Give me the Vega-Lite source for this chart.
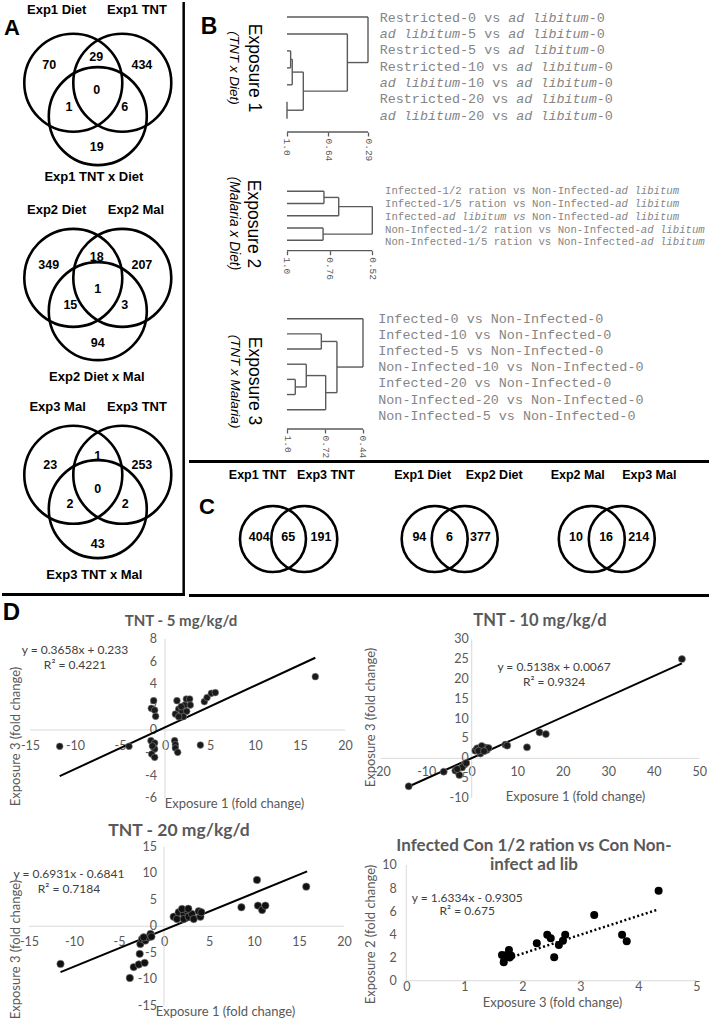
{
"$schema": "https://vega.github.io/schema/vega-lite/v6.json",
"padding": 0,
"background": "white",
"config": {"view": {"stroke": null}, "axis": {"labelOverlap": false}},
"spacing": 0,
"datasets": {
"venn3_circles": [
{"venn":"Exp1","set":"Diet","cx":-0.5,"cy":0},
{"venn":"Exp1","set":"TNT","cx":0.5,"cy":0},
{"venn":"Exp1","set":"TNT x Diet","cx":0,"cy":0.68},
{"venn":"Exp2","set":"Diet","cx":-0.5,"cy":3.98},
{"venn":"Exp2","set":"Mal","cx":0.5,"cy":3.98},
{"venn":"Exp2","set":"Diet x Mal","cx":0,"cy":4.66},
{"venn":"Exp3","set":"Mal","cx":-0.5,"cy":8.0},
{"venn":"Exp3","set":"TNT","cx":0.5,"cy":8.0},
{"venn":"Exp3","set":"TNT x Mal","cx":0,"cy":8.7}
],
"venn3_titles": [
{"label":"Exp1 Diet","x":-0.84,"y":-1.48},
{"label":"Exp1 TNT","x":0.8,"y":-1.48},
{"label":"Exp1 TNT x Diet","x":-0.08,"y":1.92},
{"label":"Exp2 Diet","x":-0.84,"y":2.6},
{"label":"Exp2 Mal","x":0.78,"y":2.6},
{"label":"Exp2 Diet x Mal","x":-0.02,"y":6.0},
{"label":"Exp3 Mal","x":-0.82,"y":6.62},
{"label":"Exp3 TNT","x":0.8,"y":6.62},
{"label":"Exp3 TNT x Mal","x":-0.07,"y":10.04}
],
"venn3_counts": [
{"venn":"Exp1","n":"70","x":-0.99,"y":-0.36},
{"venn":"Exp1","n":"29","x":-0.03,"y":-0.53},
{"venn":"Exp1","n":"434","x":0.9,"y":-0.36},
{"venn":"Exp1","n":"0","x":-0.02,"y":0.15},
{"venn":"Exp1","n":"1","x":-0.59,"y":0.49},
{"venn":"Exp1","n":"6","x":0.55,"y":0.49},
{"venn":"Exp1","n":"19","x":-0.02,"y":1.31},
{"venn":"Exp2","n":"349","x":-1.0,"y":3.72},
{"venn":"Exp2","n":"18","x":-0.02,"y":3.56},
{"venn":"Exp2","n":"207","x":0.9,"y":3.72},
{"venn":"Exp2","n":"1","x":0,"y":4.2},
{"venn":"Exp2","n":"15","x":-0.56,"y":4.54},
{"venn":"Exp2","n":"3","x":0.55,"y":4.54},
{"venn":"Exp2","n":"94","x":0,"y":5.32},
{"venn":"Exp3","n":"23","x":-0.97,"y":7.79},
{"venn":"Exp3","n":"1","x":0,"y":7.62},
{"venn":"Exp3","n":"253","x":0.9,"y":7.79},
{"venn":"Exp3","n":"0","x":0,"y":8.28},
{"venn":"Exp3","n":"2","x":-0.57,"y":8.59},
{"venn":"Exp3","n":"2","x":0.56,"y":8.59},
{"venn":"Exp3","n":"43","x":0,"y":9.41}
],
"venn2_circles": [
{"pair":"TNT","set":"Exp1 TNT","cx":2.545,"cy":0},
{"pair":"TNT","set":"Exp3 TNT","cx":3.494,"cy":0},
{"pair":"Diet","set":"Exp1 Diet","cx":7.445,"cy":0},
{"pair":"Diet","set":"Exp2 Diet","cx":8.355,"cy":0},
{"pair":"Mal","set":"Exp2 Mal","cx":12.206,"cy":0},
{"pair":"Mal","set":"Exp3 Mal","cx":13.115,"cy":0}
],
"venn2_titles": [
{"label":"Exp1 TNT","x":2.08,"y":-1.95},
{"label":"Exp3 TNT","x":4.15,"y":-1.95},
{"label":"Exp1 Diet","x":7.08,"y":-1.95},
{"label":"Exp2 Diet","x":9.25,"y":-1.95},
{"label":"Exp2 Mal","x":11.78,"y":-1.95},
{"label":"Exp3 Mal","x":13.95,"y":-1.95}
],
"venn2_counts": [
{"n":"404","x":2.13,"y":-0.05},
{"n":"65","x":3.01,"y":-0.05},
{"n":"191","x":4.0,"y":-0.05},
{"n":"94","x":6.98,"y":-0.05},
{"n":"6","x":7.89,"y":-0.05},
{"n":"377","x":8.83,"y":-0.05},
{"n":"10","x":11.73,"y":-0.05},
{"n":"16","x":12.64,"y":-0.05},
{"n":"214","x":13.63,"y":-0.05}
],
"b1_tree": [
{"x":1.0,"x2":0.29,"y":1,"y2":1},
{"x":1.0,"x2":0.471,"y":2,"y2":2},
{"x":1.0,"x2":0.968,"y":3,"y2":3},
{"x":1.0,"x2":0.968,"y":4,"y2":4},
{"x":0.968,"x2":0.968,"y":3,"y2":4},
{"x":0.968,"x2":0.954,"y":3.5,"y2":3.5},
{"x":1.0,"x2":0.954,"y":5,"y2":5},
{"x":0.954,"x2":0.954,"y":3.5,"y2":5},
{"x":0.954,"x2":0.857,"y":4.25,"y2":4.25},
{"x":1.0,"x2":1.0,"y":6,"y2":7},
{"x":1.0,"x2":0.857,"y":6.5,"y2":6.5},
{"x":0.857,"x2":0.857,"y":4.25,"y2":6.5},
{"x":0.857,"x2":0.471,"y":5.375,"y2":5.375},
{"x":0.471,"x2":0.471,"y":2,"y2":5.375},
{"x":0.471,"x2":0.29,"y":3.6875,"y2":3.6875},
{"x":0.29,"x2":0.29,"y":1,"y2":3.6875}
],
"b2_tree": [
{"x":1.0,"x2":0.792,"y":1,"y2":1},
{"x":1.0,"x2":0.792,"y":2,"y2":2},
{"x":0.792,"x2":0.792,"y":1,"y2":2},
{"x":0.792,"x2":0.709,"y":1.5,"y2":1.5},
{"x":1.0,"x2":0.709,"y":3,"y2":3},
{"x":0.709,"x2":0.709,"y":1.5,"y2":3},
{"x":0.709,"x2":0.52,"y":2.25,"y2":2.25},
{"x":1.0,"x2":0.797,"y":4,"y2":4},
{"x":1.0,"x2":0.797,"y":5,"y2":5},
{"x":0.797,"x2":0.797,"y":4,"y2":5},
{"x":0.797,"x2":0.52,"y":4.5,"y2":4.5},
{"x":0.52,"x2":0.52,"y":2.25,"y2":4.5}
],
"b3_tree": [
{"x":1.0,"x2":0.44,"y":1,"y2":1},
{"x":1.0,"x2":0.747,"y":2,"y2":2},
{"x":1.0,"x2":0.747,"y":3,"y2":3},
{"x":0.747,"x2":0.747,"y":2,"y2":3},
{"x":0.747,"x2":0.632,"y":2.5,"y2":2.5},
{"x":1.0,"x2":0.858,"y":4,"y2":4},
{"x":1.0,"x2":0.939,"y":5,"y2":5},
{"x":1.0,"x2":0.939,"y":6,"y2":6},
{"x":0.939,"x2":0.939,"y":5,"y2":6},
{"x":0.939,"x2":0.858,"y":5.5,"y2":5.5},
{"x":0.858,"x2":0.858,"y":4,"y2":5.5},
{"x":0.858,"x2":0.715,"y":4.75,"y2":4.75},
{"x":1.0,"x2":0.715,"y":7,"y2":7},
{"x":0.715,"x2":0.715,"y":4.75,"y2":7},
{"x":0.715,"x2":0.632,"y":5.875,"y2":5.875},
{"x":0.632,"x2":0.632,"y":2.5,"y2":5.875},
{"x":0.632,"x2":0.44,"y":4.1875,"y2":4.1875},
{"x":0.44,"x2":0.44,"y":1,"y2":4.1875}
],
"b1_labels": [
{"r":1,"plain":"Restricted-0\u00a0vs\u00a0\u00a0\u00a0\u00a0\u00a0\u00a0\u00a0\u00a0\u00a0\u00a0\u00a0-0","ital":"\u200b\u00a0\u00a0\u00a0\u00a0\u00a0\u00a0\u00a0\u00a0\u00a0\u00a0\u00a0\u00a0\u00a0\u00a0\u00a0\u00a0ad\u00a0libitum"},
{"r":2,"plain":"\u200b\u00a0\u00a0\u00a0\u00a0\u00a0\u00a0\u00a0\u00a0\u00a0\u00a0-5\u00a0vs\u00a0\u00a0\u00a0\u00a0\u00a0\u00a0\u00a0\u00a0\u00a0\u00a0\u00a0-0","ital":"ad\u00a0libitum\u00a0\u00a0\u00a0\u00a0\u00a0\u00a0ad\u00a0libitum"},
{"r":3,"plain":"Restricted-5\u00a0vs\u00a0\u00a0\u00a0\u00a0\u00a0\u00a0\u00a0\u00a0\u00a0\u00a0\u00a0-0","ital":"\u200b\u00a0\u00a0\u00a0\u00a0\u00a0\u00a0\u00a0\u00a0\u00a0\u00a0\u00a0\u00a0\u00a0\u00a0\u00a0\u00a0ad\u00a0libitum"},
{"r":4,"plain":"Restricted-10\u00a0vs\u00a0\u00a0\u00a0\u00a0\u00a0\u00a0\u00a0\u00a0\u00a0\u00a0\u00a0-0","ital":"\u200b\u00a0\u00a0\u00a0\u00a0\u00a0\u00a0\u00a0\u00a0\u00a0\u00a0\u00a0\u00a0\u00a0\u00a0\u00a0\u00a0\u00a0ad\u00a0libitum"},
{"r":5,"plain":"\u200b\u00a0\u00a0\u00a0\u00a0\u00a0\u00a0\u00a0\u00a0\u00a0\u00a0-10\u00a0vs\u00a0\u00a0\u00a0\u00a0\u00a0\u00a0\u00a0\u00a0\u00a0\u00a0\u00a0-0","ital":"ad\u00a0libitum\u00a0\u00a0\u00a0\u00a0\u00a0\u00a0\u00a0ad\u00a0libitum"},
{"r":6,"plain":"Restricted-20\u00a0vs\u00a0\u00a0\u00a0\u00a0\u00a0\u00a0\u00a0\u00a0\u00a0\u00a0\u00a0-0","ital":"\u200b\u00a0\u00a0\u00a0\u00a0\u00a0\u00a0\u00a0\u00a0\u00a0\u00a0\u00a0\u00a0\u00a0\u00a0\u00a0\u00a0\u00a0ad\u00a0libitum"},
{"r":7,"plain":"\u200b\u00a0\u00a0\u00a0\u00a0\u00a0\u00a0\u00a0\u00a0\u00a0\u00a0-20\u00a0vs\u00a0\u00a0\u00a0\u00a0\u00a0\u00a0\u00a0\u00a0\u00a0\u00a0\u00a0-0","ital":"ad\u00a0libitum\u00a0\u00a0\u00a0\u00a0\u00a0\u00a0\u00a0ad\u00a0libitum"}
],
"b2_labels": [
{"r":1,"plain":"Infected-1/2\u00a0ration\u00a0vs\u00a0Non-Infected-","ital":"\u200b\u00a0\u00a0\u00a0\u00a0\u00a0\u00a0\u00a0\u00a0\u00a0\u00a0\u00a0\u00a0\u00a0\u00a0\u00a0\u00a0\u00a0\u00a0\u00a0\u00a0\u00a0\u00a0\u00a0\u00a0\u00a0\u00a0\u00a0\u00a0\u00a0\u00a0\u00a0\u00a0\u00a0\u00a0\u00a0\u00a0ad\u00a0libitum"},
{"r":2,"plain":"Infected-1/5\u00a0ration\u00a0vs\u00a0Non-Infected-","ital":"\u200b\u00a0\u00a0\u00a0\u00a0\u00a0\u00a0\u00a0\u00a0\u00a0\u00a0\u00a0\u00a0\u00a0\u00a0\u00a0\u00a0\u00a0\u00a0\u00a0\u00a0\u00a0\u00a0\u00a0\u00a0\u00a0\u00a0\u00a0\u00a0\u00a0\u00a0\u00a0\u00a0\u00a0\u00a0\u00a0\u00a0ad\u00a0libitum"},
{"r":3,"plain":"Infected-\u00a0\u00a0\u00a0\u00a0\u00a0\u00a0\u00a0\u00a0\u00a0\u00a0\u00a0\u00a0\u00a0\u00a0Non-Infected-","ital":"\u200b\u00a0\u00a0\u00a0\u00a0\u00a0\u00a0\u00a0\u00a0\u00a0ad\u00a0libitum\u00a0vs\u00a0\u00a0\u00a0\u00a0\u00a0\u00a0\u00a0\u00a0\u00a0\u00a0\u00a0\u00a0\u00a0\u00a0ad\u00a0libitum"},
{"r":4,"plain":"Non-Infected-1/2\u00a0ration\u00a0vs\u00a0Non-Infected-","ital":"\u200b\u00a0\u00a0\u00a0\u00a0\u00a0\u00a0\u00a0\u00a0\u00a0\u00a0\u00a0\u00a0\u00a0\u00a0\u00a0\u00a0\u00a0\u00a0\u00a0\u00a0\u00a0\u00a0\u00a0\u00a0\u00a0\u00a0\u00a0\u00a0\u00a0\u00a0\u00a0\u00a0\u00a0\u00a0\u00a0\u00a0\u00a0\u00a0\u00a0\u00a0ad\u00a0libitum"},
{"r":5,"plain":"Non-Infected-1/5\u00a0ration\u00a0vs\u00a0Non-Infected-","ital":"\u200b\u00a0\u00a0\u00a0\u00a0\u00a0\u00a0\u00a0\u00a0\u00a0\u00a0\u00a0\u00a0\u00a0\u00a0\u00a0\u00a0\u00a0\u00a0\u00a0\u00a0\u00a0\u00a0\u00a0\u00a0\u00a0\u00a0\u00a0\u00a0\u00a0\u00a0\u00a0\u00a0\u00a0\u00a0\u00a0\u00a0\u00a0\u00a0\u00a0\u00a0ad\u00a0libitum"}
],
"b3_labels": [
{"r":1,"plain":"Infected-0 vs Non-Infected-0"},
{"r":2,"plain":"Infected-10 vs Non-Infected-0"},
{"r":3,"plain":"Infected-5 vs Non-Infected-0"},
{"r":4,"plain":"Non-Infected-10 vs Non-Infected-0"},
{"r":5,"plain":"Infected-20 vs Non-Infected-0"},
{"r":6,"plain":"Non-Infected-20 vs Non-Infected-0"},
{"r":7,"plain":"Non-Infected-5 vs Non-Infected-0"}
],
"d1_yticks": [{"v":-6},{"v":-4},{"v":-2},{"v":0},{"v":2},{"v":4},{"v":6},{"v":8}],
"d2_yticks": [{"v":-10},{"v":-5},{"v":0},{"v":5},{"v":10},{"v":15},{"v":20},{"v":25},{"v":30}],
"d3_yticks": [{"v":-15},{"v":-10},{"v":-5},{"v":0},{"v":5},{"v":10},{"v":15}],
"d1": [
{"x":-11.7,"y":-1.43},{"x":-4.0,"y":-1.43},{"x":-1.26,"y":2.57},{"x":-1.52,"y":1.9},{"x":-1.15,"y":1.74},{"x":-1.04,"y":1.2},{"x":-1.56,"y":-0.94},{"x":-1.15,"y":-1.14},{"x":-1.26,"y":-1.52},{"x":-1.15,"y":-1.67},{"x":-1.48,"y":-2.11},{"x":-1.15,"y":-2.4},{"x":-1.4,"y":-1.4},{"x":1.33,"y":2.57},{"x":1.15,"y":1.4},{"x":1.52,"y":1.84},{"x":1.89,"y":1.64},{"x":2.19,"y":2.19},{"x":2.37,"y":2.72},{"x":2.74,"y":2.72},{"x":2.41,"y":1.64},{"x":2.04,"y":1.17},{"x":2.81,"y":2.19},{"x":1.52,"y":1.17},{"x":1.8,"y":2.05},{"x":1.07,"y":-0.94},{"x":1.15,"y":-1.29},{"x":1.15,"y":-1.58},{"x":1.41,"y":-1.96},{"x":3.93,"y":-1.32},{"x":4.37,"y":2.49},{"x":4.67,"y":2.84},{"x":5.15,"y":3.22},{"x":5.59,"y":3.28},{"x":16.7,"y":4.68}
],
"d1_trend": [{"x":-11.7,"y":-4.05},{"x":16.7,"y":6.34}],
"d2": [
{"x":-13.85,"y":-7.05},{"x":-6.15,"y":-3.37},{"x":-3.6,"y":-3.1},{"x":-2.72,"y":-4.2},{"x":-1.62,"y":-1.6},{"x":-2.1,"y":-2.3},{"x":-3.2,"y":-2.7},{"x":-1.2,"y":-1.2},{"x":0.8,"y":1.93},{"x":1.2,"y":2.5},{"x":1.9,"y":1.2},{"x":2.5,"y":2.3},{"x":3.0,"y":2.7},{"x":2.2,"y":3.1},{"x":3.3,"y":2.1},{"x":1.5,"y":1.9},{"x":3.7,"y":2.6},{"x":2.7,"y":1.8},{"x":7.4,"y":3.44},{"x":7.8,"y":3.2},{"x":12.15,"y":2.77},{"x":14.9,"y":6.54},{"x":16.3,"y":6.1},{"x":46.2,"y":25.0}
],
"d2_trend": [{"x":-13.85,"y":-7.1},{"x":46.2,"y":23.9}],
"d3": [
{"x":-11.5,"y":-7.1},{"x":-3.8,"y":-9.76},{"x":-3.37,"y":-7.7},{"x":-2.8,"y":-7.2},{"x":-2.15,"y":-6.9},{"x":-2.7,"y":-5.2},{"x":-2.63,"y":-3.34},{"x":-2.44,"y":-2.4},{"x":-2.07,"y":-2.7},{"x":-1.7,"y":-2.08},{"x":-1.5,"y":-1.45},{"x":-1.4,"y":-1.95},{"x":-2.26,"y":-2.08},{"x":1.07,"y":1.8},{"x":1.44,"y":1.37},{"x":1.63,"y":2.64},{"x":2.19,"y":2.33},{"x":2.56,"y":2.96},{"x":2.19,"y":1.37},{"x":2.74,"y":1.8},{"x":3.11,"y":2.33},{"x":3.3,"y":1.37},{"x":3.85,"y":2.83},{"x":4.04,"y":1.8},{"x":4.15,"y":2.64},{"x":2.0,"y":3.27},{"x":2.7,"y":3.3},{"x":8.6,"y":3.58},{"x":10.33,"y":8.74},{"x":10.44,"y":3.9},{"x":10.9,"y":3.07},{"x":11.26,"y":3.9},{"x":15.8,"y":7.48}
],
"d3_trend": [{"x":-11.5,"y":-8.65},{"x":15.9,"y":10.35}],
"d4": [
{"x":1.65,"y":2.22},{"x":1.68,"y":1.6},{"x":1.72,"y":2.2},{"x":1.77,"y":2.65},{"x":1.78,"y":2.0},{"x":1.81,"y":2.15},{"x":2.25,"y":3.23},{"x":2.43,"y":3.98},{"x":2.49,"y":3.66},{"x":2.55,"y":2.02},{"x":2.63,"y":3.09},{"x":2.7,"y":3.46},{"x":2.74,"y":3.98},{"x":3.24,"y":5.68},{"x":3.72,"y":3.98},{"x":3.8,"y":3.4},{"x":4.35,"y":7.78}
],
"d4_trend": [{"x":1.62,"y":1.72},{"x":4.35,"y":6.17}]
},
"vconcat": [
{
"hconcat": [
{
"width": 183, "height": 594,
"layer": [
{"data": {"name": "venn3_circles"},
 "mark": {"type": "point", "shape": "circle", "filled": false, "size": 9604, "stroke": "black", "strokeWidth": 2.6, "opacity": 1},
 "encoding": {"x": {"field": "cx", "type": "quantitative", "scale": {"domain": [-1.955, 1.78], "nice": false, "zero": false}, "axis": null},
              "y": {"field": "cy", "type": "quantitative", "scale": {"domain": [-1.649, 10.473], "reverse": true, "nice": false, "zero": false}, "axis": null}}},
{"data": {"name": "venn3_titles"},
 "mark": {"type": "text", "font": "Liberation Sans", "fontWeight": "bold", "fontSize": 13, "align": "center", "baseline": "middle", "color": "black"},
 "encoding": {"x": {"field": "x", "type": "quantitative", "scale": {"domain": [-1.955, 1.78], "nice": false, "zero": false}, "axis": null},
              "y": {"field": "y", "type": "quantitative", "scale": {"domain": [-1.649, 10.473], "reverse": true, "nice": false, "zero": false}, "axis": null},
              "text": {"field": "label", "type": "nominal"}}},
{"data": {"name": "venn3_counts"},
 "mark": {"type": "text", "font": "Liberation Sans", "fontWeight": "bold", "fontSize": 12.5, "align": "center", "baseline": "middle", "color": "black"},
 "encoding": {"x": {"field": "x", "type": "quantitative", "scale": {"domain": [-1.955, 1.78], "nice": false, "zero": false}, "axis": null},
              "y": {"field": "y", "type": "quantitative", "scale": {"domain": [-1.649, 10.473], "reverse": true, "nice": false, "zero": false}, "axis": null},
              "text": {"field": "n", "type": "nominal"}}},
{"data": {"values": [{}]},
 "mark": {"type": "text", "text": "A", "font": "Liberation Sans", "fontWeight": "bold", "fontSize": 22, "align": "center", "baseline": "middle", "color": "black"},
 "encoding": {"x": {"datum": -1.75, "type": "quantitative", "scale": {"domain": [-1.955, 1.78], "nice": false, "zero": false}, "axis": null},
              "y": {"datum": -1.118, "type": "quantitative", "scale": {"domain": [-1.649, 10.473], "reverse": true, "nice": false, "zero": false}, "axis": null}}},
{"data": {"values": [{}]},
 "mark": {"type": "rule", "color": "black", "strokeWidth": 2.5},
 "encoding": {"x": {"datum": 1.753, "type": "quantitative", "scale": {"domain": [-1.955, 1.78], "nice": false, "zero": false}, "axis": null},
              "y": {"datum": -1.649, "type": "quantitative", "scale": {"domain": [-1.649, 10.473], "reverse": true, "nice": false, "zero": false}, "axis": null},
              "y2": {"datum": 10.473}}},
{"data": {"values": [{}]},
 "mark": {"type": "rule", "color": "black", "strokeWidth": 3},
 "encoding": {"x": {"datum": -1.955, "type": "quantitative", "scale": {"domain": [-1.955, 1.78], "nice": false, "zero": false}, "axis": null},
              "x2": {"datum": 1.78},
              "y": {"datum": 10.443, "type": "quantitative", "scale": {"domain": [-1.649, 10.473], "reverse": true, "nice": false, "zero": false}, "axis": null}}}
]
},
{
"vconcat": [
{
"hconcat": [
{"width": 89.3, "height": 158, "data": {"values": [{}]},
 "layer": [
 {"mark": {"type": "text", "text": "B", "font": "Liberation Sans", "fontWeight": "bold", "fontSize": 23, "align": "center", "baseline": "middle", "color": "black"},
  "encoding": {"x": {"datum": 0.224, "type": "quantitative", "scale": {"domain": [0, 1]}, "axis": null},
               "y": {"datum": 1.59, "type": "quantitative", "scale": {"domain": [0.115, 9.437], "reverse": true, "nice": false, "zero": false}, "axis": null}}},
 {"mark": {"type": "text", "text": "Exposure 1", "angle": 90, "font": "Liberation Sans", "fontSize": 17.5, "align": "center", "baseline": "middle", "color": "black"},
  "encoding": {"x": {"datum": 0.728, "type": "quantitative", "scale": {"domain": [0, 1]}, "axis": null},
               "y": {"datum": 4.01, "type": "quantitative", "scale": {"domain": [0.115, 9.437], "reverse": true, "nice": false, "zero": false}, "axis": null}}},
 {"mark": {"type": "text", "text": "(TNT x Diet)", "angle": 90, "font": "Liberation Sans", "fontStyle": "italic", "fontSize": 13.5, "align": "center", "baseline": "middle", "color": "black"},
  "encoding": {"x": {"datum": 0.5095, "type": "quantitative", "scale": {"domain": [0, 1]}, "axis": null},
               "y": {"datum": 4.01, "type": "quantitative", "scale": {"domain": [0.115, 9.437], "reverse": true, "nice": false, "zero": false}, "axis": null}}}
 ]},
{"width": 97, "height": 158,
 "layer": [
 {"data": {"name": "b1_tree"},
  "mark": {"type": "rule", "color": "#5a5a5a", "strokeWidth": 1.4},
  "encoding": {
   "x": {"field": "x", "type": "quantitative", "scale": {"domain": [0.2199, 1.0701], "reverse": true, "nice": false, "zero": false},
         "axis": {"values": [1.0, 0.64, 0.29], "title": null, "grid": false, "domain": false, "offset": -28, "labelAngle": 90, "labelAlign": "left", "labelBaseline": "middle", "labelFont": "Liberation Mono", "labelFontSize": 9.5, "labelColor": "#555555", "tickColor": "#5a5a5a", "tickSize": 4, "tickWidth": 1.3, "labelPadding": 2, "labelFlush": false, "labelOverlap": false, "labelExpr": "datum.value == 1 ? '1.0' : format(datum.value, '.2f')"}},
   "x2": {"field": "x2"},
   "y": {"field": "y", "type": "quantitative", "scale": {"domain": [0.115, 9.437], "reverse": true, "nice": false, "zero": false}, "axis": null},
   "y2": {"field": "y2"}}},
 {"data": {"values": [{}]},
  "mark": {"type": "rule", "color": "#5a5a5a", "strokeWidth": 1.3},
  "encoding": {
   "x": {"datum": 1.0, "type": "quantitative", "scale": {"domain": [0.2199, 1.0701], "reverse": true, "nice": false, "zero": false}},
   "x2": {"datum": 0.29},
   "y": {"datum": 7.785, "type": "quantitative", "scale": {"domain": [0.115, 9.437], "reverse": true, "nice": false, "zero": false}, "axis": null}}}
 ]},
{"width": 339.7, "height": 158, "data": {"name": "b1_labels"},
 "encoding": {"x": {"datum": 0, "type": "quantitative", "scale": {"domain": [0, 1]}, "axis": null},
              "y": {"field": "r", "type": "quantitative", "scale": {"domain": [0.039, 9.714], "reverse": true, "nice": false, "zero": false}, "axis": null}},
 "layer": [
 {"mark": {"type": "text", "font": "Liberation Mono", "fontSize": 13.4, "color": "#858585", "align": "left", "baseline": "middle", "dx": 3.7}, "encoding": {"text": {"field": "plain", "type": "nominal"}}},
 {"mark": {"type": "text", "font": "Liberation Mono", "fontStyle": "italic", "fontSize": 13.4, "color": "#858585", "align": "left", "baseline": "middle", "dx": 3.7}, "encoding": {"text": {"field": "ital", "type": "nominal"}}}
 ]}
],
"spacing": 0
},
{
"hconcat": [
{"width": 89.7, "height": 142, "data": {"values": [{}]},
 "layer": [
 {"mark": {"type": "text", "text": "Exposure 2", "angle": 90, "font": "Liberation Sans", "fontSize": 17.5, "align": "center", "baseline": "middle", "color": "black"},
  "encoding": {"x": {"datum": 0.719, "type": "quantitative", "scale": {"domain": [0, 1]}, "axis": null},
               "y": {"datum": 3.67, "type": "quantitative", "scale": {"domain": [-1.473, 10.118], "reverse": true, "nice": false, "zero": false}, "axis": null}}},
 {"mark": {"type": "text", "text": "(Malaria x Diet)", "angle": 90, "font": "Liberation Sans", "fontStyle": "italic", "fontSize": 13.8, "align": "center", "baseline": "middle", "color": "black"},
  "encoding": {"x": {"datum": 0.505, "type": "quantitative", "scale": {"domain": [0, 1]}, "axis": null},
               "y": {"datum": 3.63, "type": "quantitative", "scale": {"domain": [-1.473, 10.118], "reverse": true, "nice": false, "zero": false}, "axis": null}}}
 ]},
{"width": 101.3, "height": 142,
 "layer": [
 {"data": {"name": "b2_tree"},
  "mark": {"type": "rule", "color": "#5a5a5a", "strokeWidth": 1.4},
  "encoding": {
   "x": {"field": "x", "type": "quantitative", "scale": {"domain": [0.475, 1.045], "reverse": true, "nice": false, "zero": false},
         "axis": {"values": [1.0, 0.76, 0.52], "title": null, "grid": false, "domain": false, "offset": -52.3, "labelAngle": 90, "labelAlign": "left", "labelBaseline": "middle", "labelFont": "Liberation Mono", "labelFontSize": 9.5, "labelColor": "#555555", "tickColor": "#5a5a5a", "tickSize": 4, "tickWidth": 1.3, "labelPadding": 2, "labelFlush": false, "labelOverlap": false, "labelExpr": "datum.value == 1 ? '1.0' : format(datum.value, '.2f')"}},
   "x2": {"field": "x2"},
   "y": {"field": "y", "type": "quantitative", "scale": {"domain": [-1.473, 10.118], "reverse": true, "nice": false, "zero": false}, "axis": null},
   "y2": {"field": "y2"}}},
 {"data": {"values": [{}]},
  "mark": {"type": "rule", "color": "#5a5a5a", "strokeWidth": 1.3},
  "encoding": {
   "x": {"datum": 1.0, "type": "quantitative", "scale": {"domain": [0.475, 1.045], "reverse": true, "nice": false, "zero": false}},
   "x2": {"datum": 0.52},
   "y": {"datum": 5.849, "type": "quantitative", "scale": {"domain": [-1.473, 10.118], "reverse": true, "nice": false, "zero": false}, "axis": null}}}
 ]},
{"width": 335, "height": 142, "data": {"name": "b2_labels"},
 "encoding": {"x": {"datum": 0, "type": "quantitative", "scale": {"domain": [0, 1]}, "axis": null},
              "y": {"field": "r", "type": "quantitative", "scale": {"domain": [-1.376, 9.761], "reverse": true, "nice": false, "zero": false}, "axis": null}},
 "layer": [
 {"mark": {"type": "text", "font": "Liberation Mono", "fontSize": 10.67, "color": "#858585", "align": "left", "baseline": "middle", "dx": 4}, "encoding": {"text": {"field": "plain", "type": "nominal"}}},
 {"mark": {"type": "text", "font": "Liberation Mono", "fontStyle": "italic", "fontSize": 10.67, "color": "#858585", "align": "left", "baseline": "middle", "dx": 4}, "encoding": {"text": {"field": "ital", "type": "nominal"}}}
 ]}
],
"spacing": 0
},
{
"hconcat": [
{"width": 89.7, "height": 157, "data": {"values": [{}]},
 "layer": [
 {"mark": {"type": "text", "text": "Exposure 3", "angle": 90, "font": "Liberation Sans", "fontSize": 17.5, "align": "center", "baseline": "middle", "color": "black"},
  "encoding": {"x": {"datum": 0.728, "type": "quantitative", "scale": {"domain": [0, 1]}, "axis": null},
               "y": {"datum": 5.11, "type": "quantitative", "scale": {"domain": [-0.035, 10.315], "reverse": true, "nice": false, "zero": false}, "axis": null}}},
 {"mark": {"type": "text", "text": "(TNT x Malaria)", "angle": 90, "font": "Liberation Sans", "fontStyle": "italic", "fontSize": 13.5, "align": "center", "baseline": "middle", "color": "black"},
  "encoding": {"x": {"datum": 0.509, "type": "quantitative", "scale": {"domain": [0, 1]}, "axis": null},
               "y": {"datum": 5.14, "type": "quantitative", "scale": {"domain": [-0.035, 10.315], "reverse": true, "nice": false, "zero": false}, "axis": null}}}
 ]},
{"width": 92, "height": 157,
 "layer": [
 {"data": {"name": "b3_tree"},
  "mark": {"type": "rule", "color": "#5a5a5a", "strokeWidth": 1.4},
  "encoding": {
   "x": {"field": "x", "type": "quantitative", "scale": {"domain": [0.381, 1.059], "reverse": true, "nice": false, "zero": false},
         "axis": {"values": [1.0, 0.72, 0.44], "title": null, "grid": false, "domain": false, "offset": -31, "labelAngle": 90, "labelAlign": "left", "labelBaseline": "middle", "labelFont": "Liberation Mono", "labelFontSize": 9.5, "labelColor": "#555555", "tickColor": "#5a5a5a", "tickSize": 4, "tickWidth": 1.3, "labelPadding": 2, "labelFlush": false, "labelOverlap": false, "labelExpr": "datum.value == 1 ? '1.0' : format(datum.value, '.2f')"}},
   "x2": {"field": "x2"},
   "y": {"field": "y", "type": "quantitative", "scale": {"domain": [-0.035, 10.315], "reverse": true, "nice": false, "zero": false}, "axis": null},
   "y2": {"field": "y2"}}},
 {"data": {"values": [{}]},
  "mark": {"type": "rule", "color": "#5a5a5a", "strokeWidth": 1.3},
  "encoding": {
   "x": {"datum": 1.0, "type": "quantitative", "scale": {"domain": [0.381, 1.059], "reverse": true, "nice": false, "zero": false}},
   "x2": {"datum": 0.44},
   "y": {"datum": 8.271, "type": "quantitative", "scale": {"domain": [-0.035, 10.315], "reverse": true, "nice": false, "zero": false}, "axis": null}}}
 ]},
{"width": 344.3, "height": 157, "data": {"name": "b3_labels"},
 "mark": {"type": "text", "font": "Liberation Mono", "fontSize": 13.4, "color": "#858585", "align": "left", "baseline": "middle", "dx": 7.3},
 "encoding": {"x": {"datum": 0, "type": "quantitative", "scale": {"domain": [0, 1]}, "axis": null},
              "y": {"field": "r", "type": "quantitative", "scale": {"domain": [0.029, 9.738], "reverse": true, "nice": false, "zero": false}, "axis": null},
              "text": {"field": "plain", "type": "nominal"}}}
],
"spacing": 0
},
{
"width": 526, "height": 137,
"layer": [
{"data": {"name": "venn2_circles"},
 "mark": {"type": "point", "shape": "circle", "filled": false, "size": 4356, "stroke": "black", "strokeWidth": 2.6, "opacity": 1},
 "encoding": {"x": {"field": "cx", "type": "quantitative", "scale": {"domain": [0, 15.94], "nice": false, "zero": false}, "axis": null},
              "y": {"field": "cy", "type": "quantitative", "scale": {"domain": [-2.394, 1.758], "reverse": true, "nice": false, "zero": false}, "axis": null}}},
{"data": {"name": "venn2_titles"},
 "mark": {"type": "text", "font": "Liberation Sans", "fontWeight": "bold", "fontSize": 12.5, "align": "center", "baseline": "middle", "color": "black"},
 "encoding": {"x": {"field": "x", "type": "quantitative", "scale": {"domain": [0, 15.94], "nice": false, "zero": false}, "axis": null},
              "y": {"field": "y", "type": "quantitative", "scale": {"domain": [-2.394, 1.758], "reverse": true, "nice": false, "zero": false}, "axis": null},
              "text": {"field": "label", "type": "nominal"}}},
{"data": {"name": "venn2_counts"},
 "mark": {"type": "text", "font": "Liberation Sans", "fontWeight": "bold", "fontSize": 12.5, "align": "center", "baseline": "middle", "color": "black"},
 "encoding": {"x": {"field": "x", "type": "quantitative", "scale": {"domain": [0, 15.94], "nice": false, "zero": false}, "axis": null},
              "y": {"field": "y", "type": "quantitative", "scale": {"domain": [-2.394, 1.758], "reverse": true, "nice": false, "zero": false}, "axis": null},
              "text": {"field": "n", "type": "nominal"}}},
{"data": {"values": [{}]},
 "mark": {"type": "text", "text": "C", "font": "Liberation Sans", "fontWeight": "bold", "fontSize": 22, "align": "center", "baseline": "middle", "color": "black"},
 "encoding": {"x": {"datum": 0.545, "type": "quantitative", "scale": {"domain": [0, 15.94], "nice": false, "zero": false}, "axis": null},
              "y": {"datum": -0.97, "type": "quantitative", "scale": {"domain": [-2.394, 1.758], "reverse": true, "nice": false, "zero": false}, "axis": null}}},
{"data": {"values": [{}]},
 "mark": {"type": "rule", "color": "black", "strokeWidth": 3},
 "encoding": {"x": {"datum": 0, "type": "quantitative", "scale": {"domain": [0, 15.94], "nice": false, "zero": false}, "axis": null},
              "x2": {"datum": 15.94},
              "y": {"datum": -2.348, "type": "quantitative", "scale": {"domain": [-2.394, 1.758], "reverse": true, "nice": false, "zero": false}, "axis": null}}},
{"data": {"values": [{}]},
 "mark": {"type": "rule", "color": "black", "strokeWidth": 3},
 "encoding": {"x": {"datum": 0, "type": "quantitative", "scale": {"domain": [0, 15.94], "nice": false, "zero": false}, "axis": null},
              "x2": {"datum": 15.94},
              "y": {"datum": 1.712, "type": "quantitative", "scale": {"domain": [-2.394, 1.758], "reverse": true, "nice": false, "zero": false}, "axis": null}}}
]
}
],
"spacing": 0
}
],
"spacing": 0
},
{
"vconcat": [
{
"hconcat": [
{
"width": 354, "height": 212,
"layer": [
{"data": {"name": "d1"}, "mark": {"type": "point", "shape": "circle", "filled": true, "size": 0, "opacity": 0},
 "encoding": {
  "x": {"field": "x", "type": "quantitative", "scale": {"domain": [-18.11, 21.22], "nice": false, "zero": false},
        "axis": {"values": [-15,-10,-5,0,5,10,15,20], "domain": false, "ticks": false, "grid": false, "offset": -80, "labelPadding": 9.5, "labelFont": "Lato", "labelFontSize": 12.5, "labelColor": "#595959", "labelOverlap": false, "labelFlush": false, "labelExpr": "'' + datum.value",
                 "title": "Exposure 1 (fold change)", "titleFont": "Lato", "titleFontSize": 13, "titleFontWeight": "normal", "titleColor": "#595959", "titleX": 232, "titleY": 73, "titleBaseline": "middle", "titleAlign": "center"}},
  "y": {"field": "y", "type": "quantitative", "scale": {"domain": [-7.02, 11.58], "nice": false, "zero": false},
        "axis": {"values": [0], "labels": false, "domain": false, "ticks": false, "grid": false, "offset": -163,
                 "title": "Exposure 3 (fold change)", "titleFont": "Lato", "titleFontSize": 13, "titleFontWeight": "normal", "titleColor": "#595959", "titleX": -150, "titleY": 138, "titleAngle": 270, "titleBaseline": "middle", "titleAlign": "center"}}}},
{"data": {"values": [{}]}, "mark": {"type": "rule", "color": "#d9d9d9", "strokeWidth": 1},
 "encoding": {"x": {"datum": -15, "type": "quantitative", "scale": {"domain": [-18.11, 21.22], "nice": false, "zero": false}}, "x2": {"datum": 20},
              "y": {"datum": 0, "type": "quantitative", "scale": {"domain": [-7.02, 11.58], "nice": false, "zero": false}}}},
{"data": {"values": [{}]}, "mark": {"type": "rule", "color": "#d9d9d9", "strokeWidth": 1},
 "encoding": {"x": {"datum": 0, "type": "quantitative", "scale": {"domain": [-18.11, 21.22], "nice": false, "zero": false}},
              "y": {"datum": -6, "type": "quantitative", "scale": {"domain": [-7.02, 11.58], "nice": false, "zero": false}}, "y2": {"datum": 8}}},
{"data": {"name": "d1_yticks"}, "mark": {"type": "text", "font": "Lato", "fontSize": 12.5, "color": "#595959", "align": "right", "baseline": "middle", "dx": -8},
 "encoding": {"x": {"datum": 0, "type": "quantitative", "scale": {"domain": [-18.11, 21.22], "nice": false, "zero": false}},
              "y": {"field": "v", "type": "quantitative", "scale": {"domain": [-7.02, 11.58], "nice": false, "zero": false}},
              "text": {"field": "v", "type": "nominal"}}},
{"data": {"name": "d1_trend"}, "mark": {"type": "line", "color": "black", "strokeWidth": 2},
 "encoding": {"x": {"field": "x", "type": "quantitative", "scale": {"domain": [-18.11, 21.22], "nice": false, "zero": false}},
              "y": {"field": "y", "type": "quantitative", "scale": {"domain": [-7.02, 11.58], "nice": false, "zero": false}}}},
{"data": {"name": "d1"}, "mark": {"type": "point", "shape": "circle", "filled": true, "size": 45, "fill": "#1a1a1a", "stroke": "#808080", "strokeWidth": 0.6, "opacity": 1},
 "encoding": {
  "x": {"field": "x", "type": "quantitative", "scale": {"domain": [-18.11, 21.22], "nice": false, "zero": false}},
  "y": {"field": "y", "type": "quantitative", "scale": {"domain": [-7.02, 11.58], "nice": false, "zero": false}}}},
{"data": {"values": [{}]}, "mark": {"type": "text", "text": ["y = 0.3658x + 0.233", "R² = 0.4221"], "lineHeight": 15, "font": "Lato", "fontSize": 12, "color": "#404040", "align": "center", "baseline": "middle"},
 "encoding": {"x": {"datum": -10, "type": "quantitative", "scale": {"domain": [-18.11, 21.22], "nice": false, "zero": false}},
              "y": {"datum": 7.06, "type": "quantitative", "scale": {"domain": [-7.02, 11.58], "nice": false, "zero": false}}}},
{"data": {"values": [{}]}, "mark": {"type": "text", "text": "TNT - 5 mg/kg/d", "font": "Lato", "fontWeight": "bold", "fontSize": 15, "color": "#595959", "align": "center", "baseline": "middle"},
 "encoding": {"x": {"datum": 1.78, "type": "quantitative", "scale": {"domain": [-18.11, 21.22], "nice": false, "zero": false}},
              "y": {"datum": 9.56, "type": "quantitative", "scale": {"domain": [-7.02, 11.58], "nice": false, "zero": false}}}},
{"data": {"values": [{}]}, "mark": {"type": "text", "text": "D", "font": "Liberation Sans", "fontWeight": "bold", "fontSize": 24, "color": "black", "align": "center", "baseline": "middle"},
 "encoding": {"x": {"datum": -17.06, "type": "quantitative", "scale": {"domain": [-18.11, 21.22], "nice": false, "zero": false}},
              "y": {"datum": 10.26, "type": "quantitative", "scale": {"domain": [-7.02, 11.58], "nice": false, "zero": false}}}}
]
},
{
"width": 355, "height": 212,
"layer": [
{"data": {"name": "d2"}, "mark": {"type": "point", "shape": "circle", "filled": true, "size": 0, "opacity": 0},
 "encoding": {
  "x": {"field": "x", "type": "quantitative", "scale": {"domain": [-25.43, 52.59], "nice": false, "zero": false},
        "axis": {"values": [-20,-10,0,10,20,30,40,50], "domain": false, "ticks": false, "grid": false, "offset": -51.7, "labelPadding": 7, "labelFont": "Lato", "labelFontSize": 12.5, "labelColor": "#595959", "labelOverlap": false, "labelFlush": false, "labelExpr": "'' + datum.value",
                 "title": "Exposure 1 (fold change)", "titleFont": "Lato", "titleFontSize": 13, "titleFontWeight": "normal", "titleColor": "#595959", "titleX": 219, "titleY": 37.7, "titleBaseline": "middle", "titleAlign": "center"}},
  "y": {"field": "y", "type": "quantitative", "scale": {"domain": [-13.02, 40.38], "nice": false, "zero": false},
        "axis": {"values": [0], "labels": false, "domain": false, "ticks": false, "grid": false, "offset": -115.7,
                 "title": "Exposure 3 (fold change)", "titleFont": "Lato", "titleFontSize": 13, "titleFontWeight": "normal", "titleColor": "#595959", "titleX": -101.7, "titleY": 119, "titleAngle": 270, "titleBaseline": "middle", "titleAlign": "center"}}}},
{"data": {"values": [{}]}, "mark": {"type": "rule", "color": "#d9d9d9", "strokeWidth": 1},
 "encoding": {"x": {"datum": -20, "type": "quantitative", "scale": {"domain": [-25.43, 52.59], "nice": false, "zero": false}}, "x2": {"datum": 50},
              "y": {"datum": 0, "type": "quantitative", "scale": {"domain": [-13.02, 40.38], "nice": false, "zero": false}}}},
{"data": {"values": [{}]}, "mark": {"type": "rule", "color": "#d9d9d9", "strokeWidth": 1},
 "encoding": {"x": {"datum": 0, "type": "quantitative", "scale": {"domain": [-25.43, 52.59], "nice": false, "zero": false}},
              "y": {"datum": -10, "type": "quantitative", "scale": {"domain": [-13.02, 40.38], "nice": false, "zero": false}}, "y2": {"datum": 30}}},
{"data": {"name": "d2_yticks"}, "mark": {"type": "text", "font": "Lato", "fontSize": 12.5, "color": "#595959", "align": "right", "baseline": "middle", "dx": -3},
 "encoding": {"x": {"datum": 0, "type": "quantitative", "scale": {"domain": [-25.43, 52.59], "nice": false, "zero": false}},
              "y": {"field": "v", "type": "quantitative", "scale": {"domain": [-13.02, 40.38], "nice": false, "zero": false}},
              "text": {"field": "v", "type": "nominal"}}},
{"data": {"name": "d2_trend"}, "mark": {"type": "line", "color": "black", "strokeWidth": 2},
 "encoding": {"x": {"field": "x", "type": "quantitative", "scale": {"domain": [-25.43, 52.59], "nice": false, "zero": false}},
              "y": {"field": "y", "type": "quantitative", "scale": {"domain": [-13.02, 40.38], "nice": false, "zero": false}}}},
{"data": {"name": "d2"}, "mark": {"type": "point", "shape": "circle", "filled": true, "size": 50, "fill": "#1a1a1a", "stroke": "#808080", "strokeWidth": 0.6, "opacity": 1},
 "encoding": {
  "x": {"field": "x", "type": "quantitative", "scale": {"domain": [-25.43, 52.59], "nice": false, "zero": false}},
  "y": {"field": "y", "type": "quantitative", "scale": {"domain": [-13.02, 40.38], "nice": false, "zero": false}}}},
{"data": {"values": [{}]}, "mark": {"type": "text", "text": ["y = 0.5138x + 0.0067", "R² = 0.9324"], "lineHeight": 15, "font": "Lato", "fontSize": 12, "color": "#404040", "align": "center", "baseline": "middle"},
 "encoding": {"x": {"datum": 18.1, "type": "quantitative", "scale": {"domain": [-25.43, 52.59], "nice": false, "zero": false}},
              "y": {"datum": 23.1, "type": "quantitative", "scale": {"domain": [-13.02, 40.38], "nice": false, "zero": false}}}},
{"data": {"values": [{}]}, "mark": {"type": "text", "text": "TNT - 10 mg/kg/d", "font": "Lato", "fontWeight": "bold", "fontSize": 16.5, "color": "#595959", "align": "center", "baseline": "middle"},
 "encoding": {"x": {"datum": 15.0, "type": "quantitative", "scale": {"domain": [-25.43, 52.59], "nice": false, "zero": false}},
              "y": {"datum": 34.6, "type": "quantitative", "scale": {"domain": [-13.02, 40.38], "nice": false, "zero": false}}}}
]
}
],
"spacing": 0
},
{
"hconcat": [
{
"width": 354, "height": 213,
"layer": [
{"data": {"name": "d3"}, "mark": {"type": "point", "shape": "circle", "filled": true, "size": 0, "opacity": 0},
 "encoding": {
  "x": {"field": "x", "type": "quantitative", "scale": {"domain": [-18.0, 21.33], "nice": false, "zero": false},
        "axis": {"values": [-15,-10,-5,0,5,10,15,20], "domain": false, "ticks": false, "grid": false, "offset": -96.7, "labelPadding": 9.5, "labelFont": "Lato", "labelFontSize": 12.5, "labelColor": "#595959", "labelOverlap": false, "labelFlush": false, "labelExpr": "'' + datum.value",
                 "title": "Exposure 1 (fold change)", "titleFont": "Lato", "titleFontSize": 13, "titleFontWeight": "normal", "titleColor": "#595959", "titleX": 223, "titleY": 84.7, "titleBaseline": "middle", "titleAlign": "center"}},
  "y": {"field": "y", "type": "quantitative", "scale": {"domain": [-18.25, 21.94], "nice": false, "zero": false},
        "axis": {"values": [0], "labels": false, "domain": false, "ticks": false, "grid": false, "offset": -162,
                 "title": "Exposure 3 (fold change)", "titleFont": "Lato", "titleFontSize": 13, "titleFontWeight": "normal", "titleColor": "#595959", "titleX": -149, "titleY": 139, "titleAngle": 270, "titleBaseline": "middle", "titleAlign": "center"}}}},
{"data": {"values": [{}]}, "mark": {"type": "rule", "color": "#d9d9d9", "strokeWidth": 1},
 "encoding": {"x": {"datum": -15, "type": "quantitative", "scale": {"domain": [-18.0, 21.33], "nice": false, "zero": false}}, "x2": {"datum": 20},
              "y": {"datum": 0, "type": "quantitative", "scale": {"domain": [-18.25, 21.94], "nice": false, "zero": false}}}},
{"data": {"values": [{}]}, "mark": {"type": "rule", "color": "#d9d9d9", "strokeWidth": 1},
 "encoding": {"x": {"datum": 0, "type": "quantitative", "scale": {"domain": [-18.0, 21.33], "nice": false, "zero": false}},
              "y": {"datum": -15, "type": "quantitative", "scale": {"domain": [-18.25, 21.94], "nice": false, "zero": false}}, "y2": {"datum": 15}}},
{"data": {"name": "d3_yticks"}, "mark": {"type": "text", "font": "Lato", "fontSize": 12.5, "color": "#595959", "align": "right", "baseline": "middle", "dx": -7},
 "encoding": {"x": {"datum": 0, "type": "quantitative", "scale": {"domain": [-18.0, 21.33], "nice": false, "zero": false}},
              "y": {"field": "v", "type": "quantitative", "scale": {"domain": [-18.25, 21.94], "nice": false, "zero": false}},
              "text": {"field": "v", "type": "nominal"}}},
{"data": {"name": "d3_trend"}, "mark": {"type": "line", "color": "black", "strokeWidth": 2},
 "encoding": {"x": {"field": "x", "type": "quantitative", "scale": {"domain": [-18.0, 21.33], "nice": false, "zero": false}},
              "y": {"field": "y", "type": "quantitative", "scale": {"domain": [-18.25, 21.94], "nice": false, "zero": false}}}},
{"data": {"name": "d3"}, "mark": {"type": "point", "shape": "circle", "filled": true, "size": 55, "fill": "#111111", "stroke": "#808080", "strokeWidth": 0.6, "opacity": 1},
 "encoding": {
  "x": {"field": "x", "type": "quantitative", "scale": {"domain": [-18.0, 21.33], "nice": false, "zero": false}},
  "y": {"field": "y", "type": "quantitative", "scale": {"domain": [-18.25, 21.94], "nice": false, "zero": false}}}},
{"data": {"values": [{}]}, "mark": {"type": "text", "text": ["y = 0.6931x - 0.6841", "R² = 0.7184"], "lineHeight": 15, "font": "Lato", "fontSize": 12, "color": "#404040", "align": "center", "baseline": "middle"},
 "encoding": {"x": {"datum": -10.56, "type": "quantitative", "scale": {"domain": [-18.0, 21.33], "nice": false, "zero": false}},
              "y": {"datum": 9.77, "type": "quantitative", "scale": {"domain": [-18.25, 21.94], "nice": false, "zero": false}}}},
{"data": {"values": [{}]}, "mark": {"type": "text", "text": "TNT - 20 mg/kg/d", "font": "Lato", "fontWeight": "bold", "fontSize": 17.5, "color": "#595959", "align": "center", "baseline": "middle"},
 "encoding": {"x": {"datum": 1.67, "type": "quantitative", "scale": {"domain": [-18.0, 21.33], "nice": false, "zero": false}},
              "y": {"datum": 18.0, "type": "quantitative", "scale": {"domain": [-18.25, 21.94], "nice": false, "zero": false}}}}
]
},
{
"width": 355, "height": 213,
"layer": [
{"data": {"name": "d4"}, "mark": {"type": "point", "shape": "circle", "filled": true, "size": 0, "opacity": 0},
 "encoding": {
  "x": {"field": "x", "type": "quantitative", "scale": {"domain": [-0.867, 5.253], "nice": false, "zero": false},
        "axis": {"values": [0,1,2,3,4,5], "domain": false, "ticks": false, "grid": false, "offset": -42.3, "labelPadding": 0, "labelFont": "Lato", "labelFontSize": 12.5, "labelColor": "#595959", "labelOverlap": false, "labelFlush": false, "labelExpr": "'' + datum.value",
                 "title": "Exposure 3 (fold change)", "titleFont": "Lato", "titleFontSize": 13, "titleFontWeight": "normal", "titleColor": "#595959", "titleX": 196, "titleY": 21.3, "titleBaseline": "middle", "titleAlign": "center"}},
  "y": {"field": "y", "type": "quantitative", "scale": {"domain": [-3.656, 14.75], "nice": false, "zero": false},
        "axis": {"values": [0,2,4,6,8,10], "domain": false, "ticks": false, "grid": false, "offset": -50.3, "labelPadding": 10, "labelFont": "Lato", "labelFontSize": 12.5, "labelColor": "#595959", "labelOverlap": false, "labelFlush": false, "labelExpr": "'' + datum.value",
                 "title": "Exposure 2 (fold change)", "titleFont": "Lato", "titleFontSize": 13, "titleFontWeight": "normal", "titleColor": "#595959", "titleX": -36.3, "titleY": 124, "titleAngle": 270, "titleBaseline": "middle", "titleAlign": "center"}}}},
{"data": {"values": [{}]}, "mark": {"type": "rule", "color": "#d9d9d9", "strokeWidth": 1},
 "encoding": {"x": {"datum": 0, "type": "quantitative", "scale": {"domain": [-0.867, 5.253], "nice": false, "zero": false}}, "x2": {"datum": 5},
              "y": {"datum": 0, "type": "quantitative", "scale": {"domain": [-3.656, 14.75], "nice": false, "zero": false}}}},
{"data": {"values": [{}]}, "mark": {"type": "rule", "color": "#d9d9d9", "strokeWidth": 1},
 "encoding": {"x": {"datum": 0, "type": "quantitative", "scale": {"domain": [-0.867, 5.253], "nice": false, "zero": false}},
              "y": {"datum": 0, "type": "quantitative", "scale": {"domain": [-3.656, 14.75], "nice": false, "zero": false}}, "y2": {"datum": 10}}},
{"data": {"name": "d4_trend"}, "mark": {"type": "line", "color": "black", "strokeWidth": 2.5, "strokeDash": [2, 2.5]},
 "encoding": {"x": {"field": "x", "type": "quantitative", "scale": {"domain": [-0.867, 5.253], "nice": false, "zero": false}},
              "y": {"field": "y", "type": "quantitative", "scale": {"domain": [-3.656, 14.75], "nice": false, "zero": false}}}},
{"data": {"name": "d4"}, "mark": {"type": "point", "shape": "circle", "filled": true, "size": 64, "fill": "black", "strokeWidth": 0, "opacity": 1},
 "encoding": {
  "x": {"field": "x", "type": "quantitative", "scale": {"domain": [-0.867, 5.253], "nice": false, "zero": false}},
  "y": {"field": "y", "type": "quantitative", "scale": {"domain": [-3.656, 14.75], "nice": false, "zero": false}}}},
{"data": {"values": [{}]}, "mark": {"type": "text", "text": ["y = 1.6334x - 0.9305", "R² = 0.675"], "lineHeight": 13, "font": "Lato", "fontSize": 12, "color": "#404040", "align": "center", "baseline": "middle"},
 "encoding": {"x": {"datum": 1.05, "type": "quantitative", "scale": {"domain": [-0.867, 5.253], "nice": false, "zero": false}},
              "y": {"datum": 7.15, "type": "quantitative", "scale": {"domain": [-3.656, 14.75], "nice": false, "zero": false}}}},
{"data": {"values": [{}]}, "mark": {"type": "text", "text": ["Infected Con 1/2 ration vs Con Non-", "infect ad lib"], "lineHeight": 19, "font": "Lato", "fontWeight": "bold", "fontSize": 17, "color": "#595959", "align": "center", "baseline": "middle"},
 "encoding": {"x": {"datum": 2.2, "type": "quantitative", "scale": {"domain": [-0.867, 5.253], "nice": false, "zero": false}},
              "y": {"datum": 11.6, "type": "quantitative", "scale": {"domain": [-3.656, 14.75], "nice": false, "zero": false}}}}
]
}
],
"spacing": 0
}
],
"spacing": 0
}
]
}
